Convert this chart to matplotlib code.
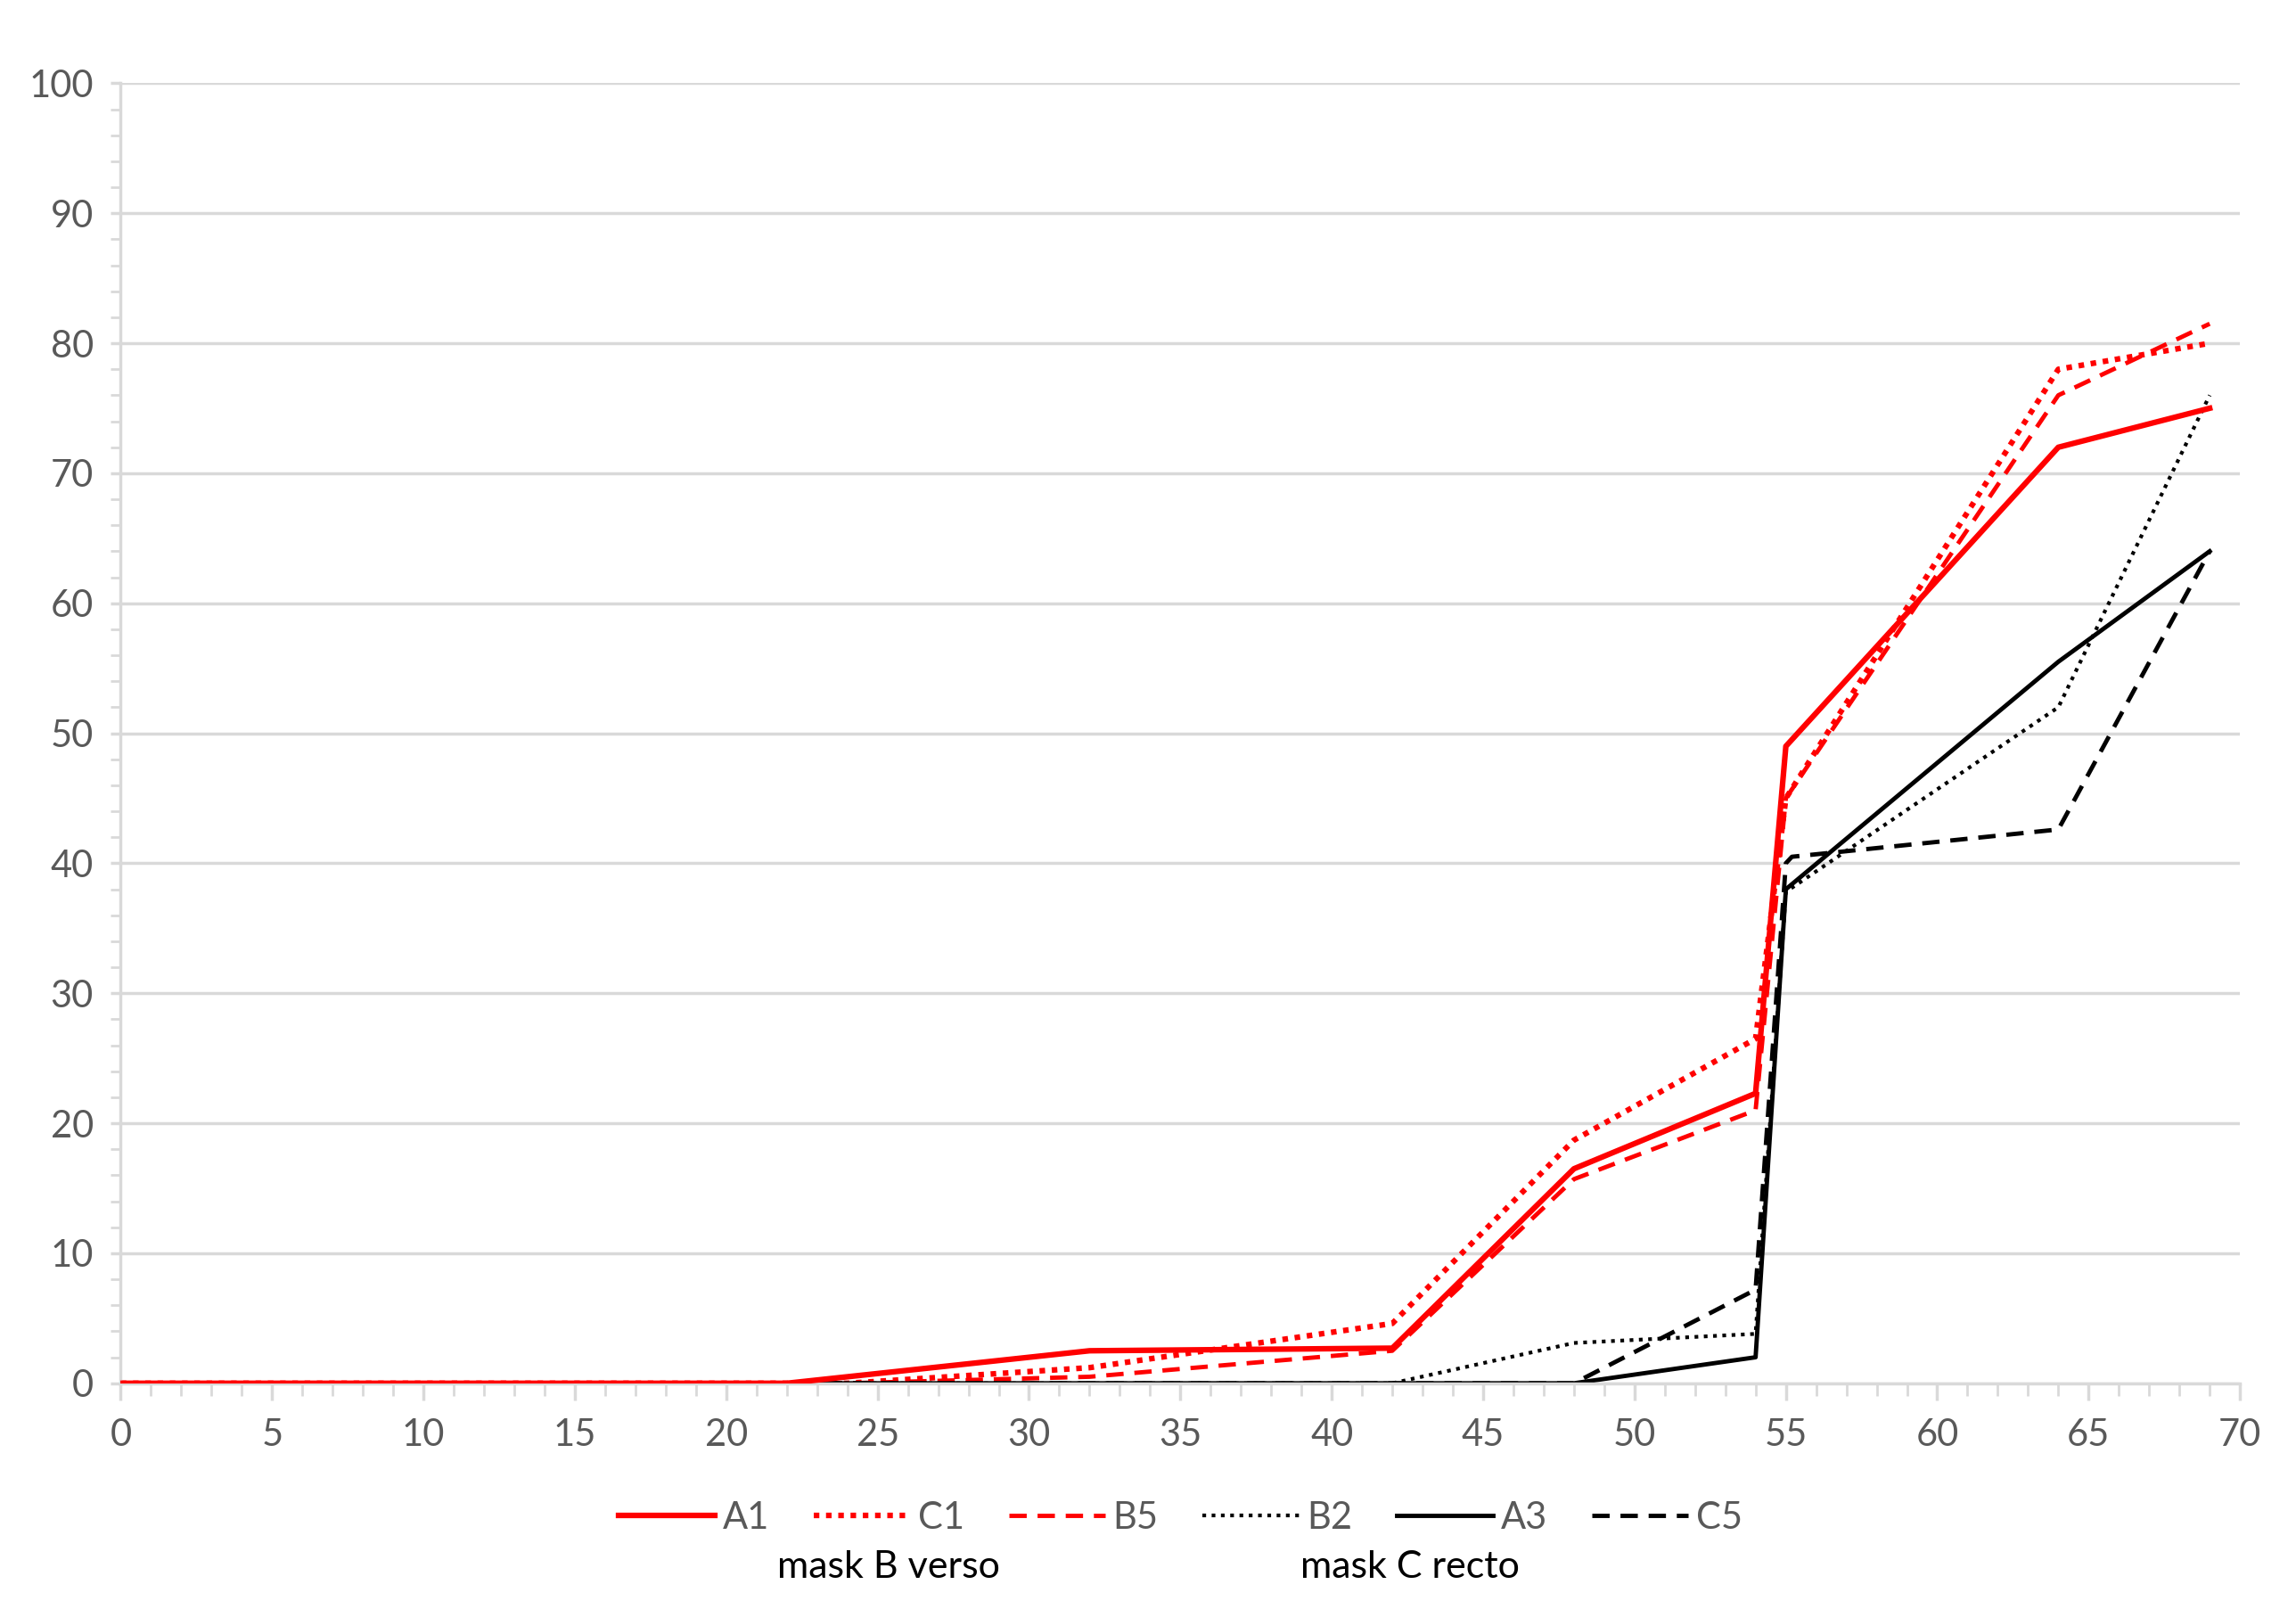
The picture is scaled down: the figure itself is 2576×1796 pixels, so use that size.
import matplotlib
matplotlib.use("Agg")
import matplotlib.pyplot as plt
from matplotlib.ticker import MultipleLocator

plt.rcParams['font.family'] = ['Lato', 'DejaVu Sans']

# series data
a1_x = [0, 22, 32, 42, 48, 54, 55, 64, 69]
a1_y = [0, 0, 2.5, 2.7, 16.5, 22.3, 49, 72, 75]
c1_x = [0, 24, 32, 42, 48, 54, 55, 64, 69]
c1_y = [0, 0, 1.2, 4.6, 18.7, 26.5, 45, 78, 80]
b5_x = [0, 24, 32, 42, 48, 54, 55, 64, 69]
b5_y = [0, 0, 0.5, 2.5, 15.7, 21, 45, 76, 81.5]
b2_x = [0, 42, 48, 54, 55, 64, 69]
b2_y = [0, 0, 3.1, 3.8, 37.8, 52, 76]
a3_x = [0, 48, 54, 55, 64, 69]
a3_y = [0, 0, 2, 38, 55.5, 64]
c5_x = [0, 48, 54, 55, 55.2, 64, 69]
c5_y = [0, 0, 7.2, 40, 40.5, 42.6, 64]

fig = plt.figure(figsize=(25.76, 17.96), dpi=100)
ax = fig.add_axes([0.0526, 0.136, 0.923, 0.812])

ax.plot(a1_x, a1_y, color='red', lw=4.5, label='A1', zorder=5)
ax.plot(c1_x, c1_y, color='red', lw=4.5, ls=(0, (1, 1.2)), label='C1')
ax.plot(b5_x, b5_y, color='red', lw=3.5, ls=(0, (4, 2.5)), label='B5')
ax.plot(b2_x, b2_y, color='black', lw=3, ls=(0, (1, 1.5)), label='B2')
ax.plot(a3_x, a3_y, color='black', lw=3.5, label='A3')
ax.plot(c5_x, c5_y, color='black', lw=3.5, ls=(0, (4, 2.5)), label='C5')

ax.set_xlim(0, 70)
ax.set_ylim(0, 100)
ax.xaxis.set_major_locator(MultipleLocator(5))
ax.xaxis.set_minor_locator(MultipleLocator(1))
ax.yaxis.set_major_locator(MultipleLocator(10))
ax.yaxis.set_minor_locator(MultipleLocator(2))
ax.grid(axis='y', color='#d9d9d9', lw=2.5)
ax.set_axisbelow(True)
for s in ['top', 'right']:
    ax.spines[s].set_visible(False)
ax.spines['left'].set_color('#d9d9d9')
ax.spines['bottom'].set_color('#d9d9d9')
ax.spines['left'].set_linewidth(2.5)
ax.spines['bottom'].set_linewidth(2.5)
ax.tick_params(axis='both', which='major', colors='#d9d9d9', labelcolor='#595959',
               labelsize=30, length=14, width=2.5, direction='out', pad=14)
ax.tick_params(axis='both', which='minor', colors='#d9d9d9', length=10, width=2)
ax.tick_params(axis='y', which='both', length=8)

ax.legend(loc='upper center', bbox_to_anchor=(0.5, -0.065), ncol=6, frameon=False,
          fontsize=30, handlelength=2.6, columnspacing=1.2, handletextpad=0.2,
          labelcolor='#595959')

fig.text(604 / 1560, 1 - 1065 / 1088, 'mask B verso', ha='center', va='center', fontsize=31)
fig.text(958 / 1560, 1 - 1065 / 1088, 'mask C recto', ha='center', va='center', fontsize=31)

fig.savefig('out.png', dpi=100)
